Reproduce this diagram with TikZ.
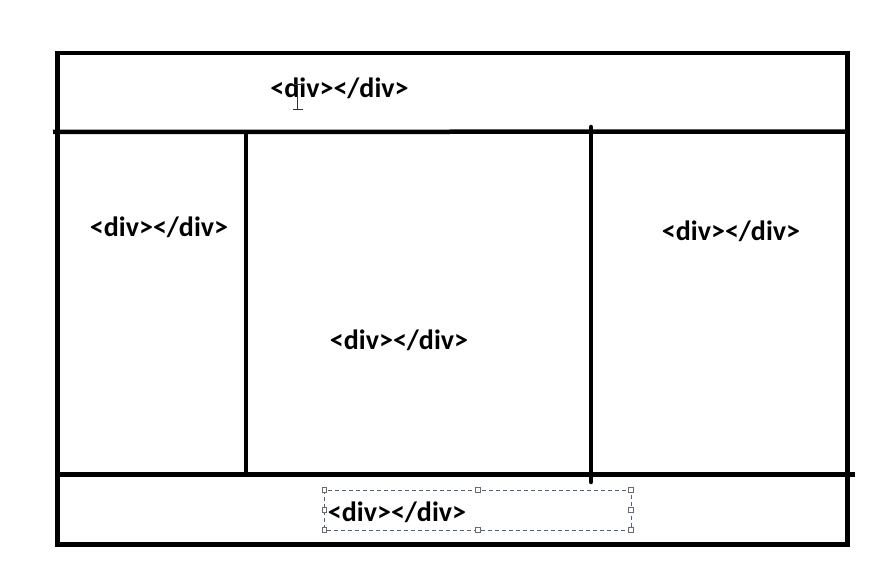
\documentclass[tikz,border=0pt]{standalone}
\usepackage{fontspec}
\setmainfont{Carlito}
\definecolor{selblue}{HTML}{4A6684}
\definecolor{handlegray}{HTML}{6A6A6A}
\begin{document}
\begin{tikzpicture}[x=1pt,y=-1pt,
  wall/.style={line width=4.5pt,black},
  lbl/.style={font=\fontsize{28}{32}\selectfont\bfseries,inner sep=0pt,text=black},
  handle/.style={draw=handlegray,fill=white,line width=0.6pt,minimum size=4.5pt,inner sep=0pt,rectangle},
  selbox/.style={draw=selblue,line width=0.9pt,dash pattern=on 4pt off 3pt}]
\useasboundingbox (0,0) rectangle (894,583);
% outer frame
\draw[wall] (57.5,53) rectangle (847.5,544.5);
% coordinates for lines
\coordinate (hl) at (53,132);
\coordinate (hr) at (847.5,131.5);
\coordinate (fl) at (57.5,474.5);
\coordinate (fr) at (855,474.5);
\coordinate (v1t) at (246,131);
\coordinate (v1b) at (246,472);
\coordinate (v2t) at (591,127);
\coordinate (v2b) at (591,482);
\draw[wall] (hl) -- (hr);
\draw[wall] (fl) -- (fr);
\draw[wall] (v1t) -- (v1b);
\draw[wall,line cap=round] (v2t) -- (v2b);
% labels
\node[lbl] (top) at (339.5,88) {<div></div>};
\node[lbl] (left) at (159,227) {<div></div>};
\node[lbl] (mid) at (399,340) {<div></div>};
\node[lbl] (right) at (731,231) {<div></div>};
\node[lbl] (bot) at (397,512) {<div></div>};
% selection box round bottom text
\coordinate (s1) at (324.5,490);
\coordinate (s2) at (631,530);
\draw[selbox] (s1) rectangle (s2);
\foreach \x in {324.5,478,631}{
  \node[handle] at (\x,490) {};
  \node[handle] at (\x,530) {};
}
\node[handle] at (324.5,510) {};
\node[handle] at (631,510) {};
% text cursor (I-beam)
\draw[line width=1pt,black!80] (297.5,85) -- (297.5,109.5);
\draw[line width=1pt,black!80] (293,109.5) -- (302.5,109.5);
\draw[line width=1pt,black!80] (293,85) -- (302.5,85);
\end{tikzpicture}
\end{document}
